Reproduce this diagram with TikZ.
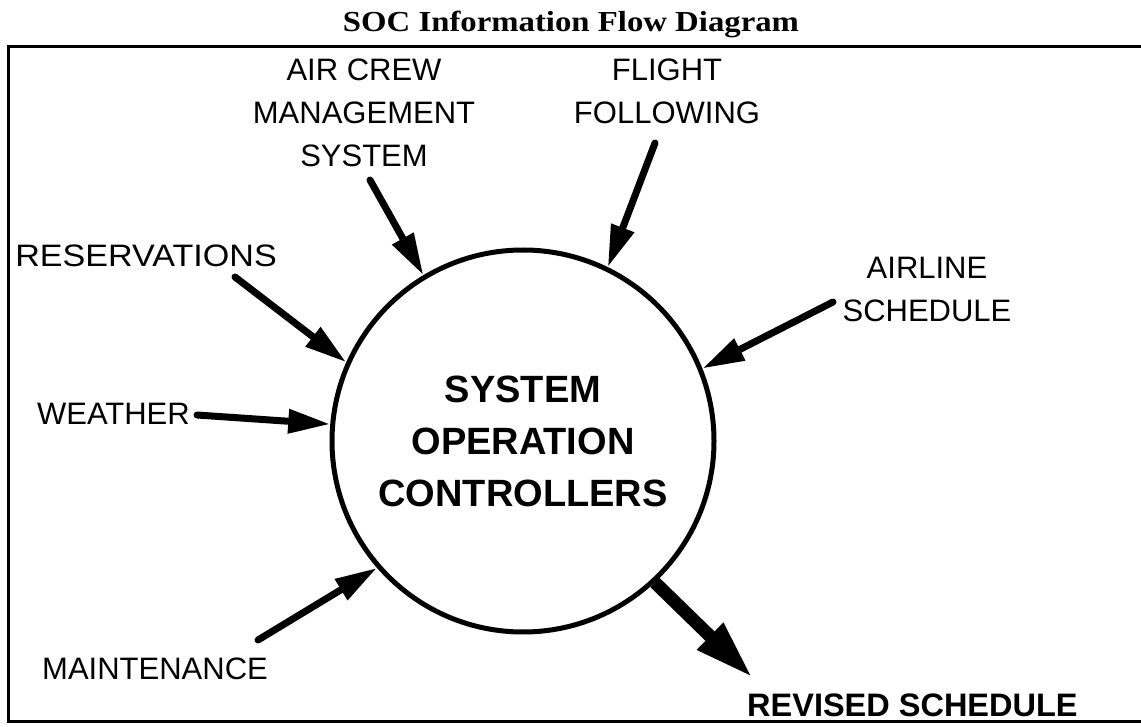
\documentclass[tikz,border=0pt]{standalone}
\usepackage{fontspec}
\setmainfont{Liberation Sans}
\newfontfamily\titlefont{Liberation Serif}
\usetikzlibrary{arrows.meta}
\begin{document}
\begin{tikzpicture}[x=1pt,y=-1pt,
  lbl/.style={font=\fontsize{31}{43}\selectfont, align=center, inner sep=0pt},
  ctr/.style={font=\fontsize{38}{52}\selectfont\bfseries, align=center},
  inarr/.style={line width=7pt, line cap=round, -{Triangle[length=42pt,width=23pt]}},
  outarr/.style={line width=13pt, -{Triangle[length=60pt,width=34pt]}},
  frameline/.style={line width=3pt}]
\useasboundingbox (0,0) rectangle (1141,727);
\node[font=\titlefont\fontsize{29}{29}\selectfont\bfseries, anchor=base, inner sep=0pt] (title) at (571,32) {\scalebox{1.13}[1]{SOC Information Flow Diagram}};
\draw[frameline] (1141,47) -- (8,47) -- (8,721) -- (1141,721);
\node[draw, circle, line width=5pt, minimum size=382pt, inner sep=0pt, ctr] (soc) at (523,441) {SYSTEM\\OPERATION\\CONTROLLERS};
% labels
\node[lbl, anchor=north] (crew) at (364,59) {AIR CREW\\MANAGEMENT\\SYSTEM};
\node[lbl, anchor=north] (flight) at (667,59) {FLIGHT\\FOLLOWING};
\node[lbl, anchor=south east] (res) at (277,267) {\scalebox{1.1}[1]{RESERVATIONS}};
\node[lbl, anchor=east] (wx) at (190,414) {WEATHER};
\node[lbl, anchor=south west] (mnt) at (42,680) {MAINTENANCE};
\node[lbl, anchor=north] (air) at (927,257) {AIRLINE\\SCHEDULE};
\node[font=\fontsize{32.5}{33}\selectfont\bfseries, anchor=south west, inner sep=0pt] (rev) at (747,717) {REVISED SCHEDULE};
% arrow tails
\coordinate (tcrew) at (370,180);
\coordinate (tflight) at (655,143);
\coordinate (tres) at (235,277);
\coordinate (twx) at (197,415);
\coordinate (tmnt) at (258,640);
\coordinate (tair) at (833,302);
\coordinate (hrev) at (753,678);
\draw[inarr] (tcrew) -- (soc.121.5);
\draw[inarr] (tflight) -- (soc.64.7);
\draw[inarr] (tres) -- (soc.156.3);
\draw[inarr] (twx) -- (soc.175.9);
\draw[inarr] (tmnt) -- (soc.221.7);
\draw[inarr] (tair) -- (soc.22.6);
\draw[outarr] (soc.313.5) -- (hrev);
\end{tikzpicture}
\end{document}
